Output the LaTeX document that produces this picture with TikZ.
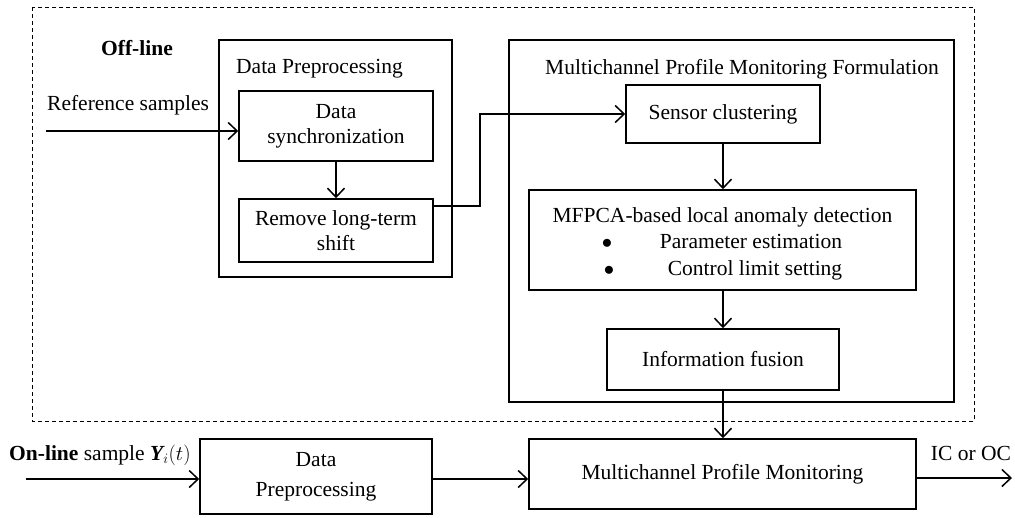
\documentclass[tikz,border=0pt]{standalone}
\usepackage{fontspec}
\setmainfont{Liberation Serif}
\usetikzlibrary{arrows.meta}
\begin{document}
\begin{tikzpicture}[x=1pt,y=-1pt,
  every node/.style={font=\fontsize{21.5}{25}\selectfont, inner sep=0pt},
  box/.style={draw, line width=1.5pt, align=center},
  frame/.style={draw, line width=1.5pt},
  link/.style={line width=1.5pt, -{Straight Barb[length=9pt,width=17pt,line width=1.5pt]}},
  lbl/.style={anchor=base}
]
\useasboundingbox (0,0) rectangle (1015,517);

% off-line region
\draw[line width=0.9pt, dash pattern=on 4pt off 3pt] (32,7) rectangle (974,421);
\node[lbl, font=\fontsize{21.5}{25}\selectfont\bfseries] (offline) at (137,55) {Off-line};

% data preprocessing group
\draw[frame] (219,40) rectangle (452,277);
\node[lbl, anchor=base west] (pretitle) at (236,73) {Data Preprocessing};
\node[box, minimum width=194pt, minimum height=70pt] (sync) at (336,126) {Data\\synchronization};
\node[box, minimum width=194pt, minimum height=63pt] (remove) at (336,230.5) {Remove long-term\\shift};

% monitoring formulation group
\draw[frame] (509,40) rectangle (954,402);
\node[lbl] (formtitle) at (742,74) {Multichannel Profile Monitoring Formulation};
\node[box, minimum width=194pt, minimum height=58pt] (sensor) at (723,114) {Sensor clustering};
\node[box, minimum width=387pt, minimum height=100pt] (mfpca) at (722.5,240) {};
\node[lbl] (mfpcatitle) at (722.5,222) {MFPCA-based local anomaly detection};
\node[lbl] (bulA) at (607,248) {$\bullet$};
\node[lbl] (parest) at (751,248) {Parameter estimation};
\node[lbl] (bulB) at (609,275) {$\bullet$};
\node[lbl] (ctrl) at (755,275) {Control limit setting};
\node[box, minimum width=232pt, minimum height=61pt] (fusion) at (723,359.5) {Information fusion};

% on-line stage
\node[box, minimum width=232pt, minimum height=75pt] (dpre) at (316,476.5) {Data\\[5pt]Preprocessing};
\node[box, minimum width=387pt, minimum height=70pt] (mon) at (722.5,474) {Multichannel Profile Monitoring};
\node[lbl, anchor=base west] (online) at (9,460) {\textbf{On-line} sample {\bfseries\itshape Y}$_{i}(t)$};
\node[lbl] (icoc) at (971,460) {IC or OC};

% connectors
\coordinate (refin) at (46,131);
\node[lbl, anchor=base west] (reflbl) at (47,110) {Reference samples};
\draw[link] (refin) -- (refin -| sync.west);
\draw[link] (sync.south) -- (remove.north);
\coordinate (j1) at (480,206);
\draw[link] (j1 -| remove.east) -- (j1) |- (sensor.west);
\draw[link] (sensor.south) -- (mfpca.north -| sensor.south);
\draw[link] (mfpca.south -| fusion.north) -- (fusion.north);
\draw[link] (fusion.south) -- (mon.north -| fusion.south);
\coordinate (onin) at (26,479);
\draw[link] (onin) -- (onin -| dpre.west);
\draw[link] (dpre.east |- onin) -- (mon.west |- onin);
\coordinate (out) at (1012,478);
\draw[link] (mon.east |- out) -- (out);
\end{tikzpicture}
\end{document}
